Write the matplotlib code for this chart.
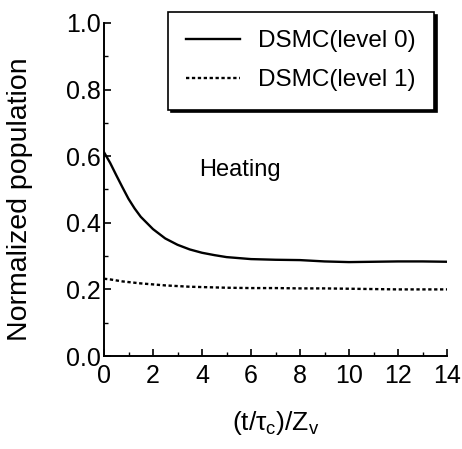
import numpy as np
import matplotlib
matplotlib.use("Agg")
import matplotlib.pyplot as plt
from matplotlib.ticker import MultipleLocator

plt.rcParams['font.family'] = ['Liberation Sans', 'DejaVu Sans']
plt.rcParams['mathtext.fontset'] = 'custom'
plt.rcParams['mathtext.rm'] = 'Liberation Sans'
plt.rcParams['mathtext.it'] = 'Liberation Sans'

# values
t = [0, 0.25, 0.5, 0.75, 1, 1.25, 1.5, 2, 2.5, 3, 3.5, 4, 4.5, 5, 6, 7, 8, 9,
     10, 11, 12, 13, 14]
level0 = [0.612, 0.58, 0.543, 0.507, 0.472, 0.443, 0.418, 0.381, 0.353, 0.334,
          0.320, 0.310, 0.303, 0.297, 0.291, 0.289, 0.288, 0.284, 0.282, 0.283,
          0.284, 0.284, 0.283]
level1 = [0.232, 0.230, 0.227, 0.224, 0.222, 0.220, 0.218, 0.215, 0.212, 0.210,
          0.208, 0.207, 0.206, 0.205, 0.204, 0.204, 0.203, 0.203, 0.202, 0.201,
          0.200, 0.200, 0.200]

fig = plt.figure(figsize=(4.62, 4.49), dpi=100)
ax = fig.add_axes([104/462, 1-356/449, (447-104)/462, (356-23)/449])

ax.plot(t, level0, color='black', lw=1.7, label='DSMC(level 0)')
ax.plot(t, level1, color='black', lw=1.7, ls=(0, (1.4, 1.1)), label='DSMC(level 1)')

ax.set_xlim(0, 14)
ax.set_ylim(0, 1.0)
ax.xaxis.set_major_locator(MultipleLocator(2))
ax.xaxis.set_minor_locator(MultipleLocator(1))
ax.yaxis.set_major_locator(MultipleLocator(0.2))
ax.yaxis.set_minor_locator(MultipleLocator(0.1))
ax.yaxis.set_major_formatter(plt.FormatStrFormatter('%.1f'))

for s in ['top', 'right']:
    ax.spines[s].set_visible(False)
for s in ['left', 'bottom']:
    ax.spines[s].set_linewidth(1.4)

ax.tick_params(which='major', direction='in', length=5, width=1.2, labelsize=18)
ax.tick_params(which='minor', direction='in', length=3, width=1.0)
ax.tick_params(axis='x', which='major', pad=6)
ax.tick_params(axis='y', which='major', pad=2)

ax.set_xlabel(r'(t/$\tau_\mathrm{c}$)/Z$_\mathrm{v}$', fontsize=19, labelpad=15)
ax.set_ylabel('Normalized population', fontsize=20.5)
ax.yaxis.set_label_coords(-0.207, 0.471)

ax.text(3.87, 0.559, 'Heating', fontsize=17, va='center', ha='left')

leg = ax.legend(loc='upper left', bbox_to_anchor=(168/462, 1-12/449),
                bbox_transform=fig.transFigure, borderaxespad=0, fontsize=17.5,
                frameon=True, fancybox=False, edgecolor='black',
                handlelength=2.2, handletextpad=0.75, borderpad=0.75,
                labelspacing=0.7,
                shadow={'color': 'black', 'alpha': 1.0})
leg.get_frame().set_linewidth(1.2)
leg.set_clip_on(False)

fig.savefig('out.png', dpi=100)
